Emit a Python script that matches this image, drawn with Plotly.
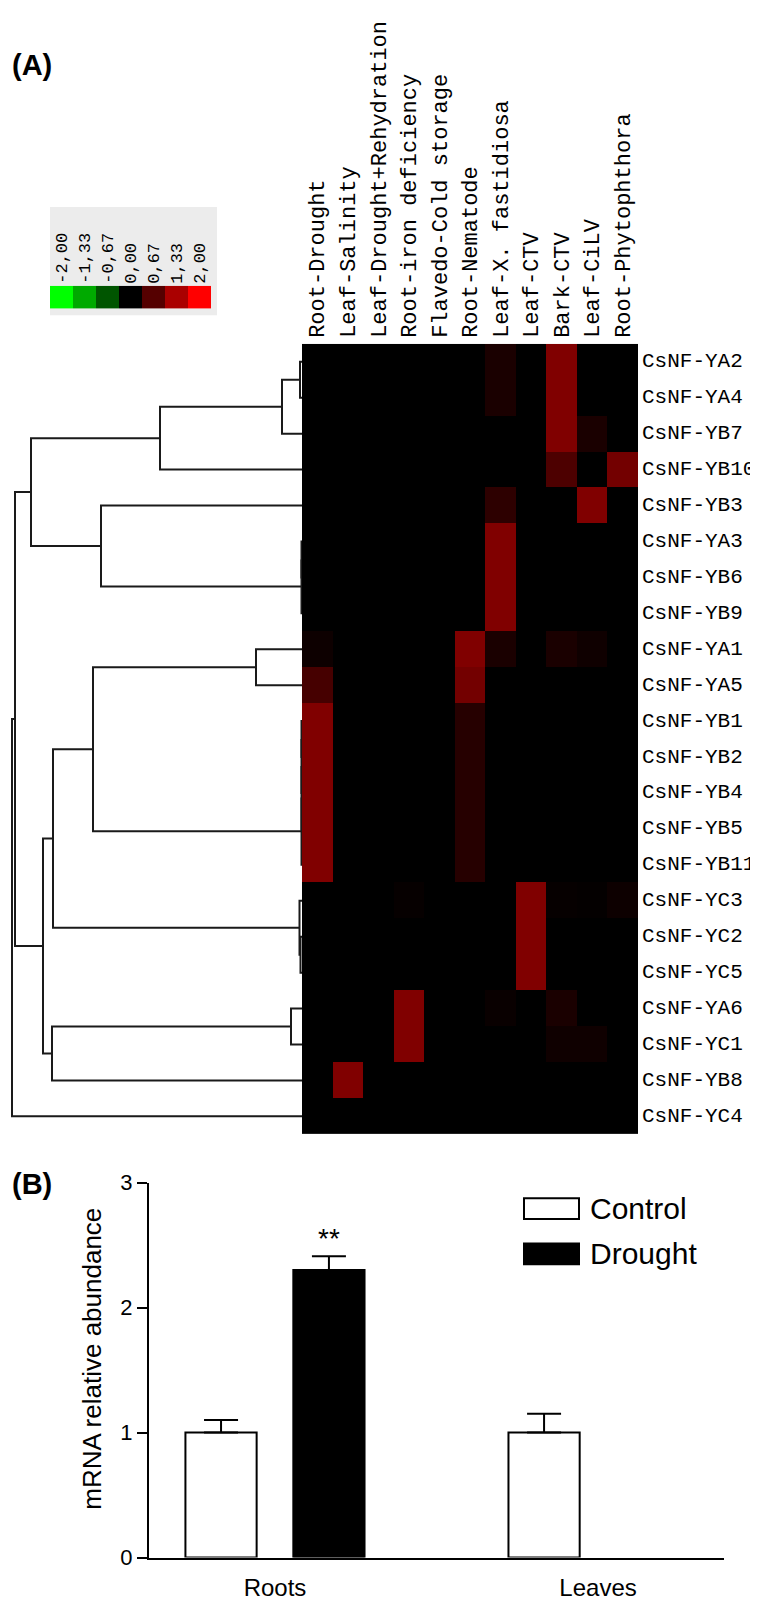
import plotly.graph_objects as go

W, H = 758, 1600


def fx(x):
    return x / W


def fy(y):
    return 1 - y / H


# ---------------- data ----------------
genes = ["CsNF-YA2", "CsNF-YA4", "CsNF-YB7", "CsNF-YB10", "CsNF-YB3", "CsNF-YA3",
         "CsNF-YB6", "CsNF-YB9", "CsNF-YA1", "CsNF-YA5", "CsNF-YB1", "CsNF-YB2",
         "CsNF-YB4", "CsNF-YB5", "CsNF-YB11", "CsNF-YC3", "CsNF-YC2", "CsNF-YC5",
         "CsNF-YA6", "CsNF-YC1", "CsNF-YB8", "CsNF-YC4"]

conditions = ["Root-Drought", "Leaf-Salinity", "Leaf-Drought+Rehydration",
              "Root-iron deficiency", "Flavedo-Cold storage", "Root-Nematode",
              "Leaf-X. fastidiosa", "Leaf-CTV", "Bark-CTV", "Leaf-CiLV",
              "Root-Phytophthora"]

# log-ratio values, one row per gene (columns follow `conditions`)
expression = [
    [0, 0, 0, 0, 0, 0, 0.2, 0, 1.0, 0, 0],          # YA2
    [0, 0, 0, 0, 0, 0, 0.2, 0, 1.0, 0, 0],          # YA4
    [0, 0, 0, 0, 0, 0, 0, 0, 1.0, 0.2, 0],          # YB7
    [0, 0, 0, 0, 0, 0, 0, 0, 0.6, 0, 0.9],          # YB10
    [0, 0, 0, 0, 0, 0, 0.35, 0, 0, 1.0, 0],         # YB3
    [0, 0, 0, 0, 0, 0, 1.0, 0, 0, 0, 0],            # YA3
    [0, 0, 0, 0, 0, 0, 1.0, 0, 0, 0, 0],            # YB6
    [0, 0, 0, 0, 0, 0, 1.0, 0, 0, 0, 0],            # YB9
    [0.1, 0, 0, 0, 0, 1.0, 0.2, 0, 0.2, 0.12, 0],   # YA1
    [0.55, 0, 0, 0, 0, 0.9, 0, 0, 0, 0, 0],         # YA5
    [1.0, 0, 0, 0, 0, 0.3, 0, 0, 0, 0, 0],          # YB1
    [1.0, 0, 0, 0, 0, 0.3, 0, 0, 0, 0, 0],          # YB2
    [1.0, 0, 0, 0, 0, 0.3, 0, 0, 0, 0, 0],          # YB4
    [1.0, 0, 0, 0, 0, 0.3, 0, 0, 0, 0, 0],          # YB5
    [1.0, 0, 0, 0, 0, 0.3, 0, 0, 0, 0, 0],          # YB11
    [0, 0, 0, 0.05, 0, 0, 0, 1.0, 0.05, 0.03, 0.1], # YC3
    [0, 0, 0, 0, 0, 0, 0, 1.0, 0, 0, 0],            # YC2
    [0, 0, 0, 0, 0, 0, 0, 1.0, 0, 0, 0],            # YC5
    [0, 0, 0, 1.0, 0, 0, 0.07, 0, 0.2, 0, 0],       # YA6
    [0, 0, 0, 1.0, 0, 0, 0, 0, 0.12, 0.12, 0],      # YC1
    [0, 1.0, 0, 0, 0, 0, 0, 0, 0, 0, 0],            # YB8
    [0, 0, 0, 0, 0, 0, 0, 0, 0, 0, 0],              # YC4
]

# hierarchical clustering: (child A, child B, merge height); leaves are 0..21,
# internal node k gets id 22 + k
linkage = [
    (0, 1, 2), (22, 2, 20), (23, 3, 142),
    (5, 6, 0.5), (25, 7, 0.5), (4, 26, 201), (24, 27, 271),
    (8, 9, 46), (10, 11, 0.5), (30, 12, 0.5), (31, 13, 0.5), (32, 14, 0.5),
    (29, 33, 209), (16, 17, 1.5), (15, 35, 2.5), (34, 36, 249),
    (18, 19, 11), (38, 20, 250), (37, 39, 259), (28, 40, 287), (41, 21, 290),
]

legend_values = [-2.0, -1.33, -0.67, 0.0, 0.67, 1.33, 2.0]
legend_labels = ["-2,00", "-1,33", "-0,67", "0,00", "0,67", "1,33", "2,00"]

tissues = ["Roots", "Leaves"]
control_mean = [1.0, 1.0]
control_err = [0.10, 0.15]
drought_mean = [2.30, None]
drought_err = [0.11, None]

# ---------------- styling ----------------
colorscale = [[0.0, "rgb(0,255,0)"], [0.5, "rgb(0,0,0)"], [1.0, "rgb(255,0,0)"]]
MONO = "Courier New, Liberation Mono, monospace"
SANS = "Arial, Liberation Sans, sans-serif"

fig = go.Figure()

# heatmap
fig.add_trace(go.Heatmap(
    z=expression, x=list(range(len(conditions))), y=list(range(len(genes))),
    colorscale=colorscale, zmin=-2, zmax=2, showscale=False,
    hoverinfo="skip", xaxis="x", yaxis="y"))

# dendrogram
n_leaf = len(genes)
pos = {i: (0.0, float(i)) for i in range(n_leaf)}
dx, dy = [], []
for k, (a, b, h) in enumerate(linkage):
    ha, ya = pos[a]
    hb, yb = pos[b]
    dx += [ha, h, h, hb, None]
    dy += [ya, ya, yb, yb, None]
    pos[n_leaf + k] = (h, (ya + yb) / 2)
fig.add_trace(go.Scatter(x=dx, y=dy, mode="lines",
                         line=dict(color="#1a1a1a", width=2),
                         hoverinfo="skip", xaxis="x2", yaxis="y2"))

# colour key
fig.add_trace(go.Heatmap(
    z=[legend_values], x=list(range(len(legend_values))), y=[0],
    colorscale=colorscale, zmin=-2, zmax=2, showscale=False,
    hoverinfo="skip", xaxis="x3", yaxis="y3"))

# bar chart
BARGAP = 0.332
fig.add_trace(go.Bar(
    x=tissues, y=control_mean, name="Control",
    marker=dict(color="white", line=dict(color="black", width=2)),
    error_y=dict(type="data", symmetric=False, array=control_err,
                 arrayminus=[0, 0], color="black", thickness=2, width=17),
    xaxis="x4", yaxis="y4"))
fig.add_trace(go.Bar(
    x=tissues, y=drought_mean, name="Drought",
    marker=dict(color="black", line=dict(color="black", width=2)),
    error_y=dict(type="data", symmetric=False, array=drought_err,
                 arrayminus=[0, 0], color="black", thickness=2, width=17),
    xaxis="x4", yaxis="y4"))

hm_y_dom = [fy(1132), fy(329)]

fig.update_layout(
    width=W, height=H, margin=dict(l=0, r=0, t=0, b=0),
    paper_bgcolor="white", plot_bgcolor="white", showlegend=False,
    barmode="group", bargap=BARGAP, bargroupgap=0.34,
    xaxis=dict(domain=[fx(294), fx(630)], range=[-0.5, 10.5], anchor="y",
               side="top", tickmode="array", tickvals=list(range(len(conditions))),
               ticktext=conditions, tickangle=-90, ticks="",
               tickfont=dict(family=MONO, size=22, color="black"),
               showgrid=False, zeroline=False, showline=False, ticklabelstandoff=5),
    yaxis=dict(domain=hm_y_dom, range=[len(genes) - 0.5, -0.5], anchor="x",
               side="right", showticklabels=False, ticks="",
               showgrid=False, zeroline=False, showline=False),
    xaxis2=dict(domain=[0, fx(294)], range=[294, 0], anchor="y2", visible=False),
    yaxis2=dict(domain=hm_y_dom, range=[len(genes) - 0.5, -0.5], anchor="x2",
                visible=False),
    xaxis3=dict(domain=[fx(42), fx(203)], range=[-0.5, 6.5], anchor="y3",
                side="top", tickmode="array", tickvals=list(range(len(legend_values))),
                ticktext=legend_labels, tickangle=-90, ticks="",
                tickfont=dict(family=MONO, size=17, color="black"),
                showgrid=False, zeroline=False, ticklabelstandoff=1),
    yaxis3=dict(domain=[fy(293), fy(270)], range=[-0.5, 0.5], anchor="x3",
                visible=False),
    xaxis4=dict(domain=[fx(141), fx(716)], range=[-0.39, 1.39], anchor="y4",
                type="category", showline=True, linewidth=2, linecolor="black",
                ticks="", showgrid=False, zeroline=False,
                tickfont=dict(family=SANS, size=24, color="black"),
                ticklabelstandoff=8),
    yaxis4=dict(domain=[fy(1562), fy(1181)], range=[0, 3], anchor="x4",
                showline=True, linewidth=2, linecolor="black",
                ticks="outside", ticklen=10, tickwidth=2, tickcolor="black",
                tickvals=[0, 1, 2, 3], showgrid=False, zeroline=False,
                tickfont=dict(family=SANS, size=22, color="black")),
)

# gene names beside the heatmap rows
for i, g in enumerate(genes):
    fig.add_annotation(xref="paper", yref="y", x=fx(633), y=i, text=g,
                       showarrow=False, xanchor="left", yanchor="middle",
                       borderpad=0,
                       font=dict(family=MONO, size=21, color="black"))

# grey panel behind colour key
fig.add_shape(type="rect", xref="paper", yref="paper",
              x0=fx(42), x1=fx(209), y0=fy(300), y1=fy(190),
              fillcolor="#ececec", line=dict(width=0), layer="below")

# manual legend for panel B
legend_items = [("Control", "white"), ("Drought", "black")]
for i, (name, fill) in enumerate(legend_items):
    top = 1197 + i * 46
    fig.add_shape(type="rect", xref="paper", yref="paper",
                  x0=fx(516), x1=fx(571), y0=fy(top + 21), y1=fy(top),
                  fillcolor=fill, line=dict(color="black", width=2))
    fig.add_annotation(xref="paper", yref="paper", x=fx(580), y=fy(top + 10.5),
                       text=name, showarrow=False, xanchor="left", yanchor="middle",
                       font=dict(family=SANS, size=30, color="black"))

# significance mark
fig.add_annotation(xref="x4", yref="y4", x=0 + (1 - BARGAP) / 4,
                   y=drought_mean[0] + drought_err[0], text="**",
                   showarrow=False, yanchor="bottom", xanchor="center",
                   font=dict(family=SANS, size=28, color="black"))

# y-axis title
fig.add_annotation(xref="paper", yref="paper", x=fx(84), y=fy(1360),
                   text="mRNA relative abundance", textangle=-90, showarrow=False,
                   xanchor="center", yanchor="middle",
                   font=dict(family=SANS, size=26, color="black"))

# panel letters
fig.add_annotation(xref="paper", yref="paper", x=fx(2), y=fy(46), text="<b>(A)</b>",
                   showarrow=False, xanchor="left", yanchor="middle",
                   font=dict(family=SANS, size=29, color="black"))
fig.add_annotation(xref="paper", yref="paper", x=fx(2), y=fy(1182), text="<b>(B)</b>",
                   showarrow=False, xanchor="left", yanchor="middle",
                   font=dict(family=SANS, size=29, color="black"))

fig.write_html("out.html")
